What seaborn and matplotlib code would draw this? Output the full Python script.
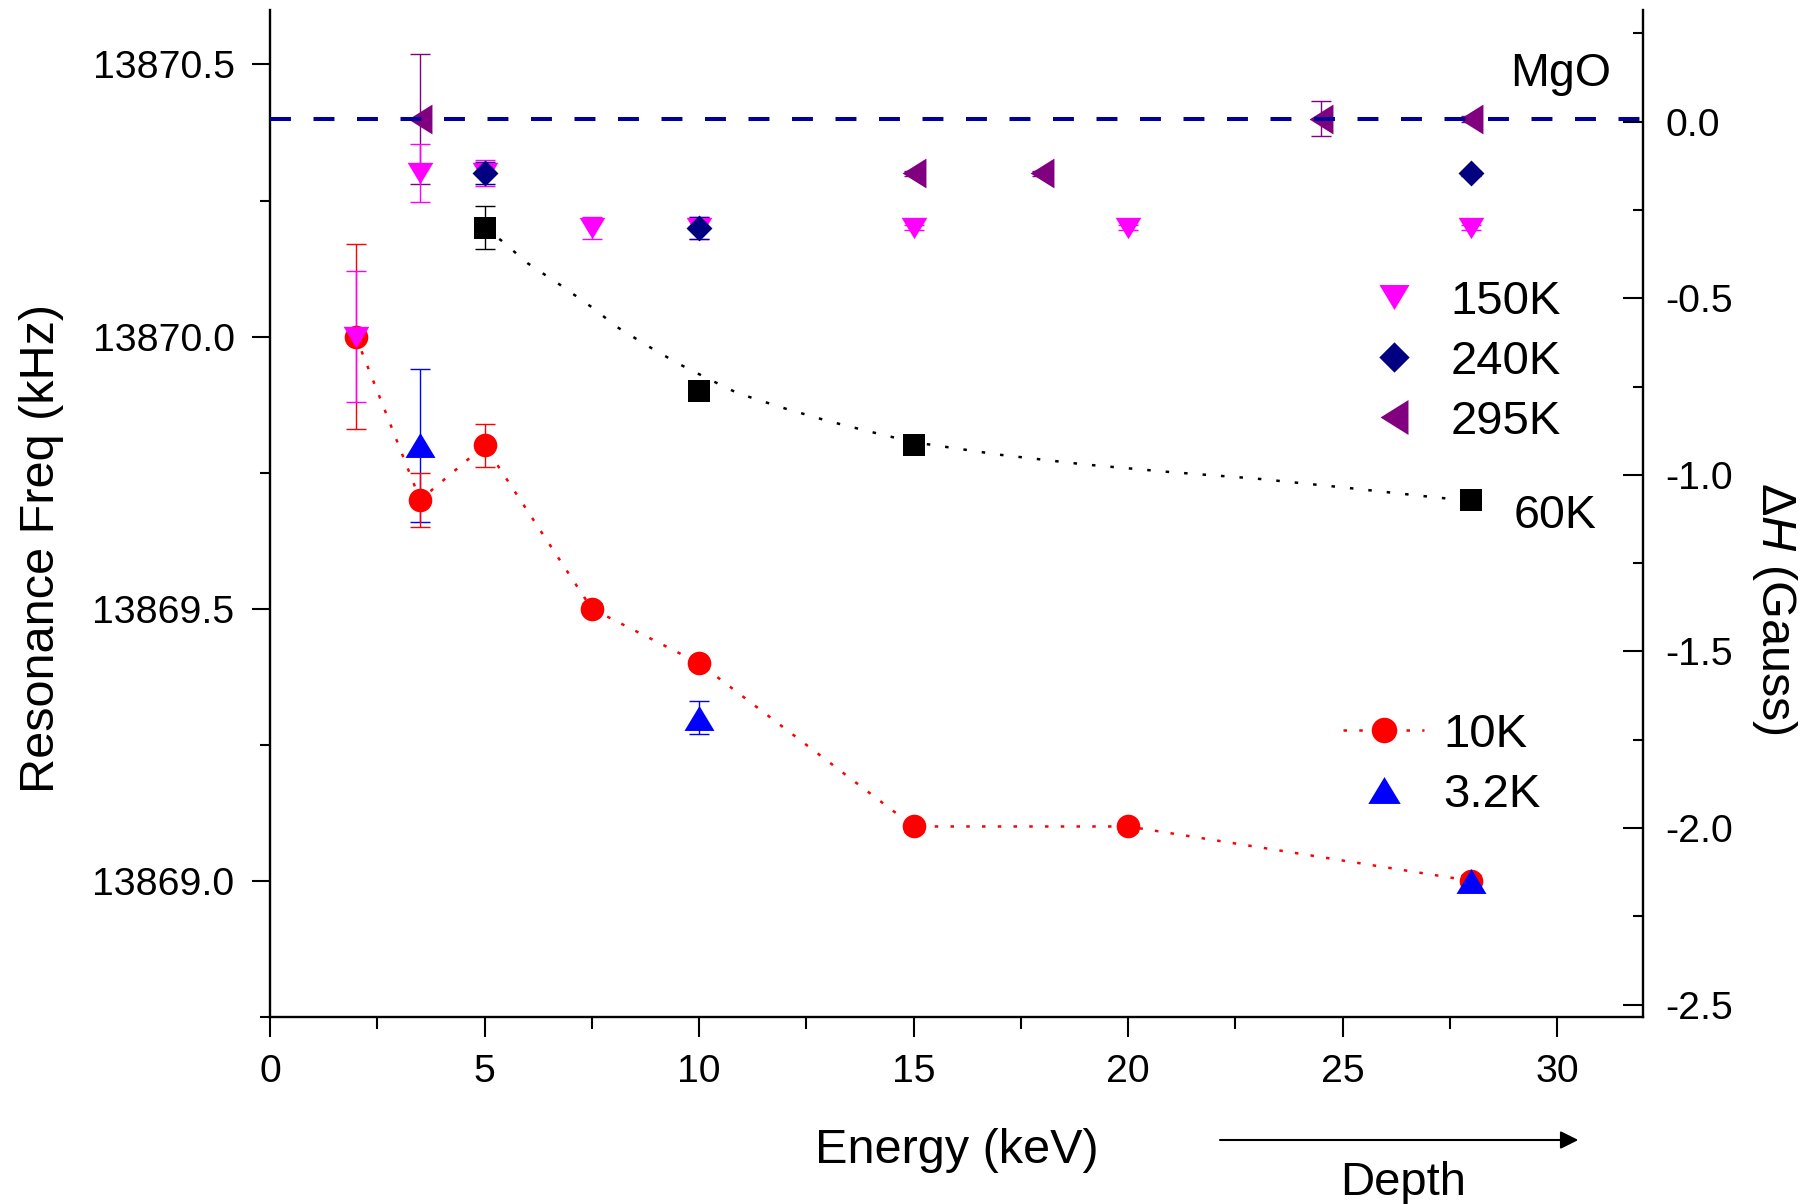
import matplotlib
matplotlib.use("Agg")
import matplotlib.pyplot as plt
from matplotlib.ticker import MultipleLocator, FormatStrFormatter
import seaborn as sns

# ---------------- data ----------------
energy_10K = [2, 3.5, 5, 7.5, 10, 15, 20, 28]
freq_10K = [13870.0, 13869.7, 13869.8, 13869.5, 13869.4, 13869.1, 13869.1, 13869.0]
err_10K = [0.17, 0.05, 0.04, 0.01, 0.01, 0.01, 0.01, 0.01]

energy_3K = [3.5, 10, 28]
freq_3K = [13869.8, 13869.3, 13869.0]
err_3K = [0.14, 0.03, 0.01]

energy_60K = [5, 10, 15, 28]
freq_60K = [13870.2, 13869.9, 13869.8, 13869.7]
err_60K = [0.04, 0.01, 0.01, 0.01]

energy_150K = [2, 3.5, 5, 7.5, 10, 15, 20, 28]
freq_150K = [13870.0, 13870.3, 13870.3, 13870.2, 13870.2, 13870.2, 13870.2, 13870.2]
err_150K = [0.12, 0.053, 0.024, 0.02, 0.02, 0.005, 0.005, 0.005]

energy_240K = [5, 10, 28]
freq_240K = [13870.3, 13870.2, 13870.3]
err_240K = [0.02, 0.02, 0.005]

energy_295K = [3.5, 15, 18, 24.5, 28]
freq_295K = [13870.4, 13870.3, 13870.3, 13870.4, 13870.4]
err_295K = [0.12, 0.005, 0.005, 0.032, 0.005]

# 60K guide curve
fit60_x = [5.0, 5.4, 6.0, 6.8, 7.5, 8.1, 8.8, 9.5, 10.2, 10.9, 12.0, 13.0, 14.0,
           15.0, 17.0, 19.0, 21.0, 23.0, 25.0, 27.0, 28.0]
fit60_y = [13870.20, 13870.176, 13870.135, 13870.093, 13870.054, 13870.017, 13869.983,
           13869.951, 13869.923, 13869.896, 13869.868, 13869.845, 13869.825, 13869.806,
           13869.783, 13869.765, 13869.751, 13869.739, 13869.723, 13869.706, 13869.698]

mgo_ref = 13870.4          # MgO reference frequency (kHz)
gauss_zero = 13870.395     # 0 G on the right axis
khz_per_gauss = 0.649

xticks = [0, 5, 10, 15, 20, 25, 30]
yticks_left = [13869.0, 13869.5, 13870.0, 13870.5]
yticks_right = [0.0, -0.5, -1.0, -1.5, -2.0, -2.5]

# ---------------- style ----------------
sns.set_theme(style="ticks", rc={
    "axes.edgecolor": "black", "xtick.color": "black", "ytick.color": "black",
    "text.color": "black", "axes.labelcolor": "black", "axes.grid": False,
})
plt.rcParams["font.family"] = ["Liberation Sans", "DejaVu Sans"]
plt.rcParams["mathtext.fontset"] = "custom"
plt.rcParams["mathtext.rm"] = "Liberation Sans"
plt.rcParams["mathtext.it"] = "Liberation Sans:italic"
plt.rcParams["axes.unicode_minus"] = False

fig = plt.figure(figsize=(18.14, 12.04), dpi=100)
ax = fig.add_axes([0.14884, 0.15532, 0.75690, 0.83638])

RED, BLUE, BLACK = "#FF0000", "#0000FF", "#000000"
MAG, NAVY, PURP = "#FF00FF", "#000080", "#800080"

tri_up = [(-1, -0.83), (1, -0.83), (0, 0.83)]
tri_down = [(-1, 0.83), (1, 0.83), (0, -0.83)]
tri_left = [(0.8, 1), (0.8, -1), (-0.8, 0)]

eb = dict(fmt="none", elinewidth=1.0, capsize=7.2, capthick=1.0)

# error bars
ax.errorbar(energy_3K, freq_3K, yerr=err_3K, ecolor=BLUE, zorder=2.0, **eb)
ax.errorbar(energy_10K, freq_10K, yerr=err_10K, ecolor=RED, zorder=2.1, **eb)
ax.errorbar(energy_60K, freq_60K, yerr=err_60K, ecolor=BLACK, zorder=2.2, **eb)
ax.errorbar(energy_295K, freq_295K, yerr=err_295K, ecolor=PURP, zorder=2.2, **eb)
ax.errorbar(energy_150K, freq_150K, yerr=err_150K, ecolor=MAG, zorder=2.3, **eb)
ax.errorbar(energy_240K, freq_240K, yerr=err_240K, ecolor=NAVY, zorder=2.4, **eb)

# 60K guide curve + points
sns.lineplot(x=fit60_x, y=fit60_y, ax=ax, color=BLACK, lw=1.8,
             linestyle=(0, (1.4, 6.0)), zorder=2.5, legend=False, errorbar=None)
sns.scatterplot(x=energy_60K, y=freq_60K, ax=ax, marker="s", s=15.5 ** 2,
                color=BLACK, linewidth=0, zorder=3, legend=False)

# 10K line with markers
sns.lineplot(x=energy_10K, y=freq_10K, ax=ax, color=RED, lw=1.8,
             linestyle=(0, (1.4, 4.9)), marker="o", markersize=17,
             markeredgewidth=0, markeredgecolor="none", zorder=3,
             label="10K", legend=False, errorbar=None)
h10 = ax.lines[-1]

sns.scatterplot(x=energy_3K, y=freq_3K, ax=ax, marker=tri_up, s=21.6 ** 2,
                color=BLUE, linewidth=0, zorder=3.5, label="3.2K", legend=False)
h3 = ax.collections[-1]
sns.scatterplot(x=energy_150K, y=freq_150K, ax=ax, marker=tri_down, s=18.5 ** 2,
                color=MAG, linewidth=0, zorder=4, label="150K", legend=False)
h150 = ax.collections[-1]
sns.scatterplot(x=energy_295K, y=freq_295K, ax=ax, marker=tri_left, s=21.5 ** 2,
                color=PURP, linewidth=0, zorder=4, label="295K", legend=False)
h295 = ax.collections[-1]
sns.scatterplot(x=energy_240K, y=freq_240K, ax=ax, marker="D", s=13.2 ** 2,
                color=NAVY, linewidth=0, zorder=5, label="240K", legend=False)
h240 = ax.collections[-1]

# MgO reference line
ax.axhline(mgo_ref, color="#00009C", lw=2.9, linestyle=(0, (5.2, 5.6)), zorder=6)

# ---------------- axes ----------------
ax.set_xlim(0, 32)
ax.set_ylim(13868.75, 13870.6)
ax.set_xticks(xticks)
ax.xaxis.set_minor_locator(MultipleLocator(2.5))
ax.set_yticks(yticks_left)
ax.yaxis.set_major_formatter(FormatStrFormatter("%.1f"))
ax.yaxis.set_minor_locator(MultipleLocator(0.25))

ax.spines["top"].set_visible(False)
ax.spines["right"].set_visible(False)
for s in ("left", "bottom"):
    ax.spines[s].set_linewidth(1.7)

TICK_FS = 28.3
ax.tick_params(axis="y", which="major", direction="out", length=13, width=1.5,
               pad=12.5, labelsize=TICK_FS, right=False)
ax.tick_params(axis="y", which="minor", direction="out", length=7, width=1.5, right=False)
ax.tick_params(axis="x", which="major", direction="out", length=14.4, width=1.5,
               pad=12.5, labelsize=TICK_FS, top=False)
ax.tick_params(axis="x", which="minor", direction="out", length=8.4, width=1.5, top=False)

sec = ax.secondary_yaxis("right",
                         functions=(lambda f: (f - gauss_zero) / khz_per_gauss,
                                    lambda g: g * khz_per_gauss + gauss_zero))
sec.set_yticks(yticks_right)
sec.yaxis.set_major_formatter(FormatStrFormatter("%.1f"))
sec.yaxis.set_minor_locator(MultipleLocator(0.25))
sec.spines["right"].set_linewidth(1.7)
sec.tick_params(axis="y", which="major", direction="in", length=14.4, width=1.5,
                pad=16, labelsize=TICK_FS)
sec.tick_params(axis="y", which="minor", direction="in", length=7, width=1.5)

# labels
ax.set_xlabel("Energy (keV)", fontsize=35)
ax.xaxis.set_label_coords(0.5004, -0.1447)
ax.xaxis.label.set_va("baseline")
ax.set_ylabel("Resonance Freq (kHz)", fontsize=35)
ax.yaxis.set_label_coords(-0.1665, 0.4653)
ax.yaxis.label.set_va("center")
sec.set_ylabel("Δ$\\mathit{H}$ (Gauss)", fontsize=35, rotation=270)
sec.yaxis.set_label_coords(1.0955, 0.4052, transform=ax.transAxes)
sec.yaxis.label.set_va("center")
sec.yaxis.label.set_ha("center")

# annotations
ax.text(30.09, 13870.46, "MgO", ha="center", va="baseline", fontsize=33.5, zorder=7)
ax.text(29.95, 13869.648, "60K", ha="center", va="baseline", fontsize=33.5, zorder=7)
fig.text(1403.3 / 1814, 1 - 1195 / 1204, "Depth", ha="center", va="baseline", fontsize=34)
ax.annotate("", xy=(1578.3 / 1814, 1 - 1140 / 1204), xytext=(1220 / 1814, 1 - 1140 / 1204),
            xycoords="figure fraction", textcoords="figure fraction",
            arrowprops=dict(arrowstyle="-|>", color="black", lw=1.5,
                            mutation_scale=27, shrinkA=0, shrinkB=0))

# legends
leg_kw = dict(loc="center left", bbox_transform=fig.transFigure, frameon=False,
              fontsize=34, handlelength=1.72, labelspacing=0.34, borderpad=0,
              borderaxespad=0, scatterpoints=1, scatteryoffsets=[0.5], numpoints=1)
leg1 = ax.legend(handles=[h150, h240, h295], labels=["150K", "240K", "295K"],
                 bbox_to_anchor=(0.7461, 0.6994), handletextpad=0.33,
                 markerscale=1.17, **leg_kw)
ax.add_artist(leg1)
ax.legend(handles=[h10, h3], labels=["10K", "3.2K"],
          bbox_to_anchor=(0.7404, 0.3647), handletextpad=0.40,
          markerscale=1.08, **leg_kw)

fig.savefig("out.png", dpi=100)
